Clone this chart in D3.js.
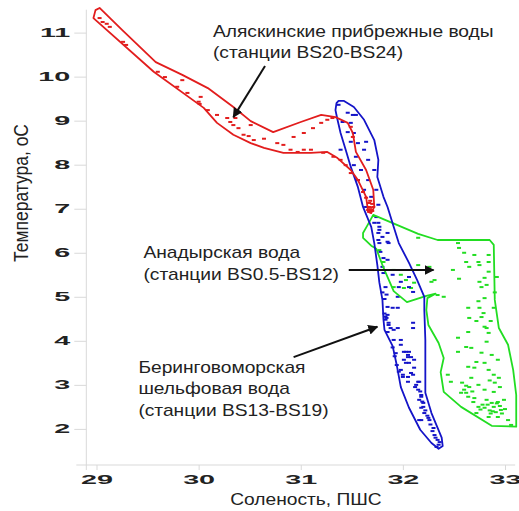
<!DOCTYPE html>
<html>
<head>
<meta charset="utf-8">
<script src="https://cdn.jsdelivr.net/npm/d3@7"></script>
<style>
  body { margin: 0; background: #fff; }
  svg { display: block; font-family: "Liberation Sans", Arial, sans-serif; }
</style>
</head>
<body>
<div id="chart"></div>
<script>
// T-S diagram: salinity (PSU) vs temperature (C)
const salTicks = [29, 30, 31, 32, 33]
const tempTicks = [2, 3, 4, 5, 6, 7, 8, 9, 10, 11]

// outlines of the three water masses [salinity, temperature]
const alaskaHull = [[29.03,11.56],[29.25,11.06],[29.58,10.33],[29.84,10.04],[30.09,9.74],[30.34,9.31],[30.51,8.99],[30.73,8.74],[31.00,8.97],[31.20,9.13],[31.34,9.08],[31.46,8.95],[31.51,8.72],[31.54,8.29],[31.64,7.88],[31.71,7.43],[31.72,7.04],[31.69,6.90],
  [31.66,6.93],[31.64,7.27],[31.56,7.65],[31.49,7.88],[31.36,8.15],[31.26,8.29],[31.10,8.27],[30.83,8.27],[30.64,8.38],[30.51,8.49],[30.34,8.68],[30.18,8.95],[30.05,9.29],[29.56,10.11],[28.97,11.33],[28.99,11.51]]
const beringHull = [[31.35,9.40],[31.34,9.24],[31.36,9.02],[31.39,8.72],[31.44,8.34],[31.49,7.95],[31.56,7.49],[31.61,7.04],[31.69,6.59],[31.72,6.22],[31.75,5.72],[31.77,5.32],[31.80,4.93],[31.81,4.48],[31.82,4.25],[31.90,3.88],[31.94,3.45],[31.98,2.95],[32.06,2.48],[32.17,1.98],[32.28,1.68],[32.35,1.55],
  [32.39,1.61],[32.38,1.80],[32.28,2.36],[32.22,2.82],[32.22,3.34],[32.22,4.02],[32.21,4.70],[32.21,5.00],[32.14,5.38],[32.06,5.77],[31.96,6.22],[31.91,6.59],[31.85,7.04],[31.81,7.27],[31.75,7.72],[31.76,8.11],[31.72,8.56],[31.62,9.02],[31.52,9.31],[31.42,9.45],[31.37,9.45]]
const anadyrHull = [[31.71,6.86],[32.15,6.43],[32.34,6.29],[32.85,6.29],[32.89,6.18],[32.90,4.93],[32.94,4.29],[33.03,3.91],[33.08,3.34],[33.11,2.77],[33.11,2.05],[32.87,2.07],[32.57,2.50],[32.40,2.84],[32.37,3.29],[32.40,3.61],[32.35,3.95],[32.25,4.36],[32.23,4.70],[32.24,4.97],[32.32,5.07],[32.23,5.02],[32.04,4.88],[31.91,5.13],[31.81,5.66],[31.74,6.09],[31.69,6.16],[31.61,6.34],[31.61,6.45],[31.65,6.61]]

// station measurements
const alaskaPts = [[29.03,11.33],[29.06,11.24],[29.10,11.20],[29.13,11.13],[29.26,10.79],[29.29,10.72],[29.60,10.11],[29.67,9.99],[29.84,9.92],[29.79,9.77],[29.89,9.63],[30.02,9.54],[30.00,9.43],[30.01,9.38],[30.09,9.24],[30.18,9.13],[30.28,9.06],[30.31,8.97],[30.36,9.06],[30.34,8.90],[30.39,8.83],[30.51,8.90],[30.44,8.68],[30.49,8.65],[30.54,8.56],[30.64,8.59],[30.77,8.49],[30.83,8.45],[30.90,8.34],[30.97,8.29],[31.03,8.34],[31.10,8.34],[30.93,8.63],[31.03,8.72],[31.12,8.83],[31.20,8.95],[31.26,9.02],[31.31,9.06],[31.22,8.27],[31.32,8.18],[31.39,8.11],[31.44,7.99],[31.49,7.81],[31.56,7.65],[31.61,7.38],[31.64,7.25],[31.67,7.13],[31.67,7.04],[31.69,6.97],[31.66,6.97],[31.49,8.86],[31.51,8.63],[31.68,7.18],[31.70,7.11],[31.68,7.02],[31.70,6.95],[31.67,6.93],[31.71,7.04]]
const beringPts = [[31.37,9.36],[31.46,9.18],[31.51,9.13],[31.54,9.13],[31.41,8.97],[31.49,8.95],[31.46,8.74],[31.52,8.72],[31.49,8.52],[31.56,8.49],[31.64,8.52],[31.39,8.34],[31.62,8.34],[31.54,8.18],[31.66,8.11],[31.52,7.99],[31.59,7.88],[31.72,7.88],[31.56,7.65],[31.66,7.65],[31.62,7.43],[31.74,7.43],[31.69,7.27],[31.76,7.09],[31.64,7.04],[31.74,6.81],[31.72,6.68],[31.77,6.59],[31.76,6.45],[31.80,6.36],[31.77,6.22],[31.85,6.25],
  [31.76,6.68],[31.77,6.52],[31.85,6.45],[31.76,6.29],[31.86,6.22],[31.78,6.02],[31.81,5.88],[31.85,5.84],[31.80,5.68],[31.81,5.54],[31.90,5.50],[32.06,5.45],[31.98,5.34],[31.83,5.22],[31.96,5.22],[32.06,5.22],[32.10,5.11],[31.95,5.00],[31.85,4.77],[31.90,4.75],[31.95,4.75],[31.85,4.59],[31.83,4.48],[31.86,4.36],[31.88,4.29],[31.95,4.29],[32.10,4.29],[31.91,4.02],[31.98,3.91],[32.03,3.75],[32.05,3.68],[32.08,3.63],[32.01,3.57],[32.06,3.50],[31.98,3.34],[32.11,3.39],[32.00,3.18],[32.08,3.27],[32.05,3.07],[32.15,3.07],[32.15,2.89],[32.18,2.77],[32.16,2.66],[32.20,2.59],[32.18,2.48],[32.21,2.36],[32.25,2.25],[32.16,2.20],
  [31.86,4.41],[31.85,4.20],[31.91,4.25],[32.10,4.41],[31.98,4.02],[32.01,3.75],[32.06,3.75],[32.05,3.63],[32.03,3.50],[32.11,3.57],[32.00,3.23],[32.05,3.18],[32.10,3.23],[32.16,3.07],[32.18,2.73],[32.20,2.50],[32.18,2.20],[32.26,2.20],[32.30,2.02],[32.31,1.86],[32.34,1.75],[32.35,1.64],[32.33,1.59],
  [32.12,2.95],[32.13,3.00],[32.17,2.85],[32.19,2.62],[32.22,2.42],[32.24,2.30],[32.27,2.10],[32.29,1.95],[32.32,1.80],[32.36,1.70],[31.92,3.65],[31.93,3.72],[31.90,3.85],[31.94,3.45],[31.96,3.30],[31.82,4.95],[31.84,5.05],[31.80,5.10],[31.82,4.62],[31.83,4.55],[31.84,4.52]]
const anadyrPts = [[32.15,6.34],[32.54,6.22],[32.55,6.11],[32.84,5.95],[32.62,5.79],[32.74,5.79],[32.75,5.72],[32.84,5.79],[32.65,5.68],[32.49,5.61],[32.84,5.57],[32.80,5.43],[32.75,5.34],[32.77,5.22],[32.55,5.41],[32.28,5.34],[32.34,5.04],[32.40,5.00],[32.82,5.27],[31.91,5.22],[32.01,5.20],[32.08,5.20],[32.80,4.97],[32.64,4.75],[32.75,4.75],[32.89,4.75],[32.79,4.63],[32.77,4.54],[32.65,4.52],[32.80,4.32],[32.82,4.29],[32.84,4.18],[32.64,4.20],[32.54,4.07],[32.82,3.98],[32.62,3.86],[32.67,3.84],[32.54,3.75],[32.77,3.73],[32.87,3.68],[32.72,3.52],[32.80,3.50],[32.93,3.57],[32.64,3.41],[32.70,3.39],[32.44,3.23],[32.47,3.07],[32.84,3.34],[32.89,3.23],[32.67,3.16],[32.94,3.16],[32.74,3.00],[32.60,2.89],[32.62,2.82],[32.64,2.73],[32.57,2.82],[32.80,2.89],[32.89,2.84],[32.82,2.66],[32.87,2.59],[32.93,2.61],[32.89,2.50],[32.96,2.43],[32.99,2.66],[32.93,2.27],[33.03,2.20],[32.74,2.50],[32.69,2.61],[32.72,2.36],[32.84,2.27],[33.06,2.09],
  [31.77,6.06],[31.81,5.79],[31.91,5.61],[31.98,5.50],[32.03,5.38],[32.11,5.32],[32.15,5.72],[32.26,5.68],[32.31,5.38],
  [32.78,2.55],[32.80,2.48],[32.85,2.42],[32.88,2.40],[32.91,2.38],[32.95,2.52],[32.97,2.35],[33.00,2.45],[32.76,2.44],[32.83,2.55],[32.86,2.35],[32.92,2.58],[32.65,2.95],[32.68,2.85],[32.62,2.98],[32.70,2.70],[32.58,3.05],[32.90,3.05],[32.85,3.10],[32.95,2.95],[32.72,4.45],[32.86,4.45],[32.74,4.90],[32.90,5.10],[32.92,5.45],[32.70,5.95],[32.60,6.00]]

// annotations: text lines, text anchor [S, T], arrow [tail, tip]
const alaskaLabel = ["Аляскинские прибрежные воды", "(станции BS20-BS24)"]
const anadyrLabel = ["Анадырская вода", "(станции BS0.5-BS12)"]
const beringLabel = ["Беринговоморская", "шельфовая вода", "(станции BS13-BS19)"]
const alaskaLabelAt = [30.14, 10.90]
const anadyrLabelAt = [29.46, 5.88]
const beringLabelAt = [29.41, 3.27]
const alaskaArrow = [[30.65, 10.24], [30.34, 9.08]]
const anadyrArrow = [[31.47, 5.61], [32.30, 5.61]]
const beringArrow = [[30.93, 3.63], [31.75, 4.32]]

const width = 519, height = 511
const x = d3.scaleLinear().domain([28.9, 33.1]).range([86.3, 515.2])
const y = d3.scaleLinear().domain([1.18, 11.52]).range([465, 9.7])

const svg = d3.select('#chart').append('svg')
    .attr('width', width)
    .attr('height', height)

svg.append('defs').append('marker')
    .attr('id', 'head')
    .attr('viewBox', '0 0 10 10')
    .attr('refX', 9).attr('refY', 5)
    .attr('markerWidth', 5).attr('markerHeight', 5)
    .attr('orient', 'auto')
  .append('path')
    .attr('d', 'M0,0 L10,5 L0,10 z')
    .attr('fill', '#111')

// the original picture is stretched sideways, so text is too
const sx = 2.3     // tick labels
const tx = 1.2     // other texts
const gridColor = '#d9d9d9'

const xAxis = g => g.attr('transform', `translate(0, ${y.range()[0]})`)
    .call(d3.axisBottom(x).tickValues(salTicks).tickSize(5).tickFormat(d3.format('d')))
    .call(g => g.select('.domain').attr('d', `M${x.range()[0] - 10},0H${x.range()[1]}`).attr('stroke', gridColor))
    .call(g => g.selectAll('.tick line').attr('stroke', gridColor))
    .call(g => g.selectAll('.tick text')
      .attr('transform', `scale(${sx},1)`)
      .attr('y', 10)
      .attr('fill', '#222')
      .attr('font-size', 12.5)
      .attr('font-weight', 'bold'))

const yAxis = g => g.attr('transform', `translate(${x.range()[0]}, 0)`)
    .call(d3.axisLeft(y).tickValues(tempTicks).tickSize(12).tickFormat(d3.format('d')))
    .call(g => g.select('.domain').attr('d', `M0,${y.range()[1]}V${y.range()[0] + 5}`).attr('stroke', gridColor))
    .call(g => g.selectAll('.tick line').attr('stroke', gridColor))
    .call(g => g.selectAll('.tick text')
      .attr('transform', `scale(${sx},1)`)
      .attr('x', -16 / sx)
      .attr('fill', '#222')
      .attr('font-size', 12.5)
      .attr('font-weight', 'bold'))

svg.append('g').call(xAxis)
svg.append('g').call(yAxis)

svg.append('text')
    .attr('transform', `translate(306, 505) scale(${tx},1)`)
    .attr('text-anchor', 'middle')
    .attr('font-size', 16)
    .attr('fill', '#222')
    .text('Соленость, ПШС')

svg.append('text')
    .attr('transform', `translate(28, 193) scale(${tx},1) rotate(-90)`)
    .attr('text-anchor', 'middle')
    .attr('font-size', 17.5)
    .attr('fill', '#222')
    .text('Температура, oC')

const groups = [
  {hull: anadyrHull, pts: anadyrPts, color: '#22dd22'},
  {hull: beringHull, pts: beringPts, color: '#1414c8'},
  {hull: alaskaHull, pts: alaskaPts, color: '#e21d1d'}
]

const line = d3.line().x(d => x(d[0])).y(d => y(d[1])).curve(d3.curveLinearClosed)

groups.forEach(grp => {
  svg.append('g')
    .selectAll('rect')
    .data(grp.pts)
    .join('rect')
      .attr('x', d => x(d[0]) - 2)
      .attr('y', d => y(d[1]) - 1)
      .attr('width', 4)
      .attr('height', 2)
      .attr('fill', grp.color)
})

groups.forEach(grp => {
  svg.append('path')
    .attr('d', line(grp.hull))
    .attr('fill', 'none')
    .attr('stroke', grp.color)
    .style('stroke-width', 1.8)
    .attr('stroke-linejoin', 'round')
})

// annotations
const notes = [
  {lines: alaskaLabel, at: alaskaLabelAt, arrow: alaskaArrow},
  {lines: anadyrLabel, at: anadyrLabelAt, arrow: anadyrArrow},
  {lines: beringLabel, at: beringLabelAt, arrow: beringArrow}
]

notes.forEach(n => {
  svg.append('text')
      .attr('transform', `translate(${x(n.at[0])}, ${y(n.at[1])}) scale(${tx},1)`)
      .attr('font-size', 16)
      .attr('fill', '#222')
    .selectAll('tspan')
    .data(n.lines)
    .join('tspan')
      .attr('x', 0)
      .attr('dy', (d, i) => i === 0 ? 0 : 21.5)
      .text(d => d)

  svg.append('line')
      .attr('x1', x(n.arrow[0][0])).attr('y1', y(n.arrow[0][1]))
      .attr('x2', x(n.arrow[1][0])).attr('y2', y(n.arrow[1][1]))
      .attr('stroke', '#111')
      .style('stroke-width', 2)
      .attr('marker-end', 'url(#head)')
})
</script>
</body>
</html>
